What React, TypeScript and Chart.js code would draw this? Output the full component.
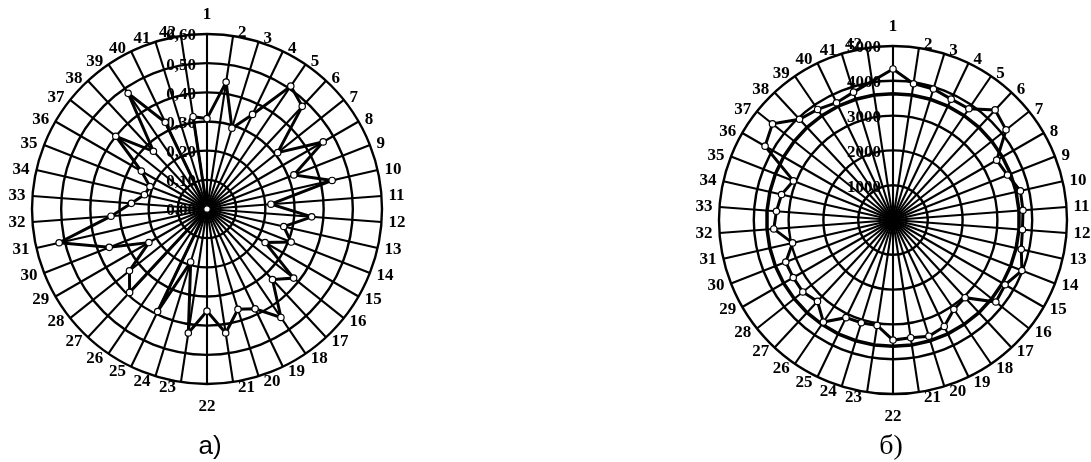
import React, { useEffect, useRef } from "react";
import { Chart, registerables } from "chart.js";

Chart.register(...registerables);

// Directions 1..42 around each rose
const categories = [
  "1", "2", "3", "4", "5", "6", "7", "8", "9", "10", "11", "12", "13", "14",
  "15", "16", "17", "18", "19", "20", "21", "22", "23", "24", "25", "26", "27", "28",
  "29", "30", "31", "32", "33", "34", "35", "36", "37", "38", "39", "40", "41", "42",
];

// Rose а): coefficient per direction
const leftValues = [
  0.31, 0.44, 0.29, 0.36, 0.51, 0.48, 0.31, 0.46, 0.32, 0.44, 0.22, 0.36, 0.27, 0.31,
  0.23, 0.38, 0.33, 0.45, 0.38, 0.36, 0.43, 0.35, 0.43, 0.19, 0.39, 0.0, 0.39, 0.34,
  0.23, 0.36, 0.52, 0.33, 0.26, 0.22, 0.21, 0.26, 0.4, 0.27, 0.48, 0.33, 0.0, 0.32,
];
const leftTickValues = [0, 0.1, 0.2, 0.3, 0.4, 0.5, 0.6];
const leftTickLabels = ["0,00", "0,10", "0,20", "0,30", "0,40", "0,50", "0,60"];

// Rose б): value per direction (no reading for direction 42)
const rightValues = [
  4340, 3960, 3940, 3855, 3870, 4315, 4155, 3440, 3535, 3755, 3745, 3730, 3780, 3980,
  3720, 3780, 3045, 3105, 3395, 3495, 3420, 3450, 3065, 3090, 3115, 3550, 3190, 3315,
  3310, 3310, 2960, 3435, 3360, 3285, 3075, 4245, 4430, 3950, 3845, 3740, 3845, null,
];
const rightNorm = 3630;
const rightTickValues = [1000, 2000, 3000, 4000, 5000];
const rightTickLabels = ["1000", "2000", "3000", "4000", "5000"];

const SERIF = '"Liberation Serif", "Times New Roman", serif';

function makeTextPlugin(tickValues: number[], tickLabels: string[], tickGap: number) {
  return {
    id: "roseText",
    beforeDatasetsDraw(chart: any) {
      const scale = chart.scales.r;
      const ctx = chart.ctx;
      ctx.save();
      ctx.font = `bold 17px ${SERIF}`;
      ctx.fillStyle = "#000";
      ctx.textAlign = "right";
      ctx.textBaseline = "middle";
      tickValues.forEach((v, i) => {
        const d = scale.getDistanceFromCenterForValue(v);
        ctx.fillText(tickLabels[i], scale.xCenter - tickGap, scale.yCenter - d + 2);
      });
      ctx.restore();
    },
    afterDraw(chart: any) {
      const scale = chart.scales.r;
      const ctx = chart.ctx;
      ctx.save();
      ctx.font = `bold 17px ${SERIF}`;
      ctx.fillStyle = "#000";
      ctx.textAlign = "center";
      ctx.textBaseline = "middle";
      (chart.data.labels as string[]).forEach((lab, i) => {
        const a = scale.getIndexAngle(i);
        const s = Math.sin(a);
        const c = Math.cos(a);
        const p = scale.getPointPosition(i, scale.drawingArea);
        const w = ctx.measureText(lab).width;
        let x = p.x;
        let y = p.y;
        if (Math.abs(s) < 1e-6) {
          // straight up / straight down: label sits above or below the rim
          y += c > 0 ? -19.5 : 22.5;
        } else {
          x += Math.sign(s) * (w / 2 + 5 + 2 * Math.abs(s) ** 4);
          y += c > 0 ? -3.5 * c : -6 * c;
        }
        ctx.fillText(lab, x, y);
      });
      ctx.restore();
    },
  };
}

type RoseProps = {
  width: number;
  height: number;
  left: number;
  padding: { left: number; right: number; top: number; bottom: number };
  max: number;
  step: number;
  datasets: any[];
  plugin: any;
};

function Rose({ width, height, left, padding, max, step, datasets, plugin }: RoseProps) {
  const ref = useRef<HTMLCanvasElement | null>(null);
  useEffect(() => {
    if (!ref.current) return;
    const chart = new Chart(ref.current, {
      type: "radar",
      data: { labels: categories, datasets },
      options: {
        responsive: false,
        animation: false,
        devicePixelRatio: 1,
        layout: { padding },
        plugins: {
          legend: { display: false },
          tooltip: { enabled: false },
        },
        elements: {
          line: { tension: 0, borderJoinStyle: "miter" },
        },
        scales: {
          r: {
            min: 0,
            max,
            ticks: { display: false, stepSize: step },
            grid: { circular: true, color: "#000", lineWidth: 2.4 },
            angleLines: { display: true, color: "#000", lineWidth: 2.1 },
            pointLabels: { display: false },
          },
        },
      } as any,
      plugins: [plugin],
    });
    return () => chart.destroy();
  }, []);
  return (
    <canvas
      ref={ref}
      width={width}
      height={height}
      style={{ position: "absolute", left, top: 0, width, height }}
    />
  );
}

const lineStyle = {
  borderColor: "#000",
  borderWidth: 3,
  pointRadius: 3.2,
  pointBackgroundColor: "#fff",
  pointBorderColor: "#000",
  pointBorderWidth: 1.2,
  fill: false,
};

export default function App() {
  const leftSets = [{ label: "а", data: leftValues, ...lineStyle }];
  const rightSets = [
    { label: "б", data: rightValues, spanGaps: true, ...lineStyle },
    {
      label: "норма",
      data: categories.map(() => rightNorm),
      borderColor: "#000",
      borderWidth: 3.5,
      pointRadius: 0,
      fill: false,
    },
  ];
  return (
    <div
      style={{
        position: "absolute",
        left: 0,
        top: 0,
        width: 1091,
        height: 462,
        background: "#fff",
        overflow: "hidden",
      }}
    >
      <Rose
        width={420}
        height={462}
        left={0}
        padding={{ left: 32, right: 38, top: 34, bottom: 78 }}
        max={0.6}
        step={0.1}
        datasets={leftSets}
        plugin={makeTextPlugin(leftTickValues, leftTickLabels, 11)}
      />
      <Rose
        width={411}
        height={462}
        left={680}
        padding={{ left: 39, right: 24, top: 46, bottom: 68 }}
        max={5000}
        step={1000}
        datasets={rightSets}
        plugin={makeTextPlugin(rightTickValues, rightTickLabels, 12)}
      />
      <div
        style={{
          position: "absolute",
          left: 170,
          top: 430,
          width: 80,
          textAlign: "center",
          font: '26px "Liberation Sans", Arial, sans-serif',
          lineHeight: "30px",
          color: "#000",
        }}
      >
        а)
      </div>
      <div
        style={{
          position: "absolute",
          left: 851,
          top: 429,
          width: 80,
          textAlign: "center",
          font: `28px ${SERIF}`,
          lineHeight: "32px",
          color: "#000",
        }}
      >
        б)
      </div>
    </div>
  );
}
